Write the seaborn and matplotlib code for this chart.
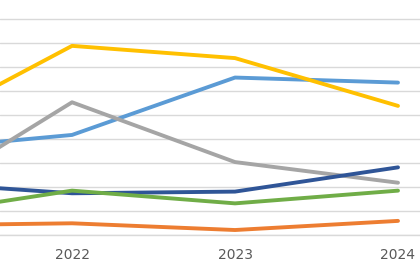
import pandas as pd
import seaborn as sns
import matplotlib
matplotlib.use('Agg')
import matplotlib.pyplot as plt

years = [2021, 2022, 2023, 2024]
series_a = [3.55, 4.18, 6.57, 6.36]   # light blue
series_b = [0.41, 0.50, 0.22, 0.60]   # orange
series_c = [1.35, 5.54, 3.05, 2.19]   # gray
series_d = [4.29, 7.89, 7.38, 5.39]   # yellow
series_e = [2.22, 1.75, 1.82, 2.83]   # dark blue
series_f = [0.82, 1.86, 1.33, 1.86]   # green
names = ['A', 'B', 'C', 'D', 'E', 'F']
colors = ['#5B9BD5', '#ED7D31', '#A5A5A5', '#FFC000', '#2F5597', '#70AD47']

df = pd.DataFrame({
    'year': years * 6,
    'value': series_a + series_b + series_c + series_d + series_e + series_f,
    'series': [n for n in names for _ in years],
})

sns.set_style('white')
plt.rcParams['font.family'] = ['DejaVu Sans']

fig = plt.figure(figsize=(4.2, 2.8), dpi=100)
ax = fig.add_axes([0, 44.7 / 280, 1, 235.3 / 280])

sns.lineplot(data=df, x='year', y='value', hue='series', palette=colors,
             linewidth=2.8, legend=False, ax=ax, solid_capstyle='round')

ax.set_yticks(range(0, 10))
ax.yaxis.grid(True, color='#D9D9D9', linewidth=1.0)
ax.set_axisbelow(True)
ax.set_xticks(years)
ax.set_xticklabels([str(y) for y in years])
# limits after ticks, the reference is cropped on the left
ax.set_xlim(2021.558, 2024.135)
ax.set_ylim(0, 9.8)
ax.tick_params(axis='x', length=0, labelsize=10, labelcolor='#595959', pad=9)
ax.tick_params(axis='y', length=0, labelleft=False)
ax.set_xlabel('')
ax.set_ylabel('')
for s in ['top', 'right', 'left']:
    ax.spines[s].set_visible(False)
ax.spines['bottom'].set_color('#D9D9D9')
ax.spines['bottom'].set_linewidth(1.0)

fig.savefig('out.png', dpi=100)
